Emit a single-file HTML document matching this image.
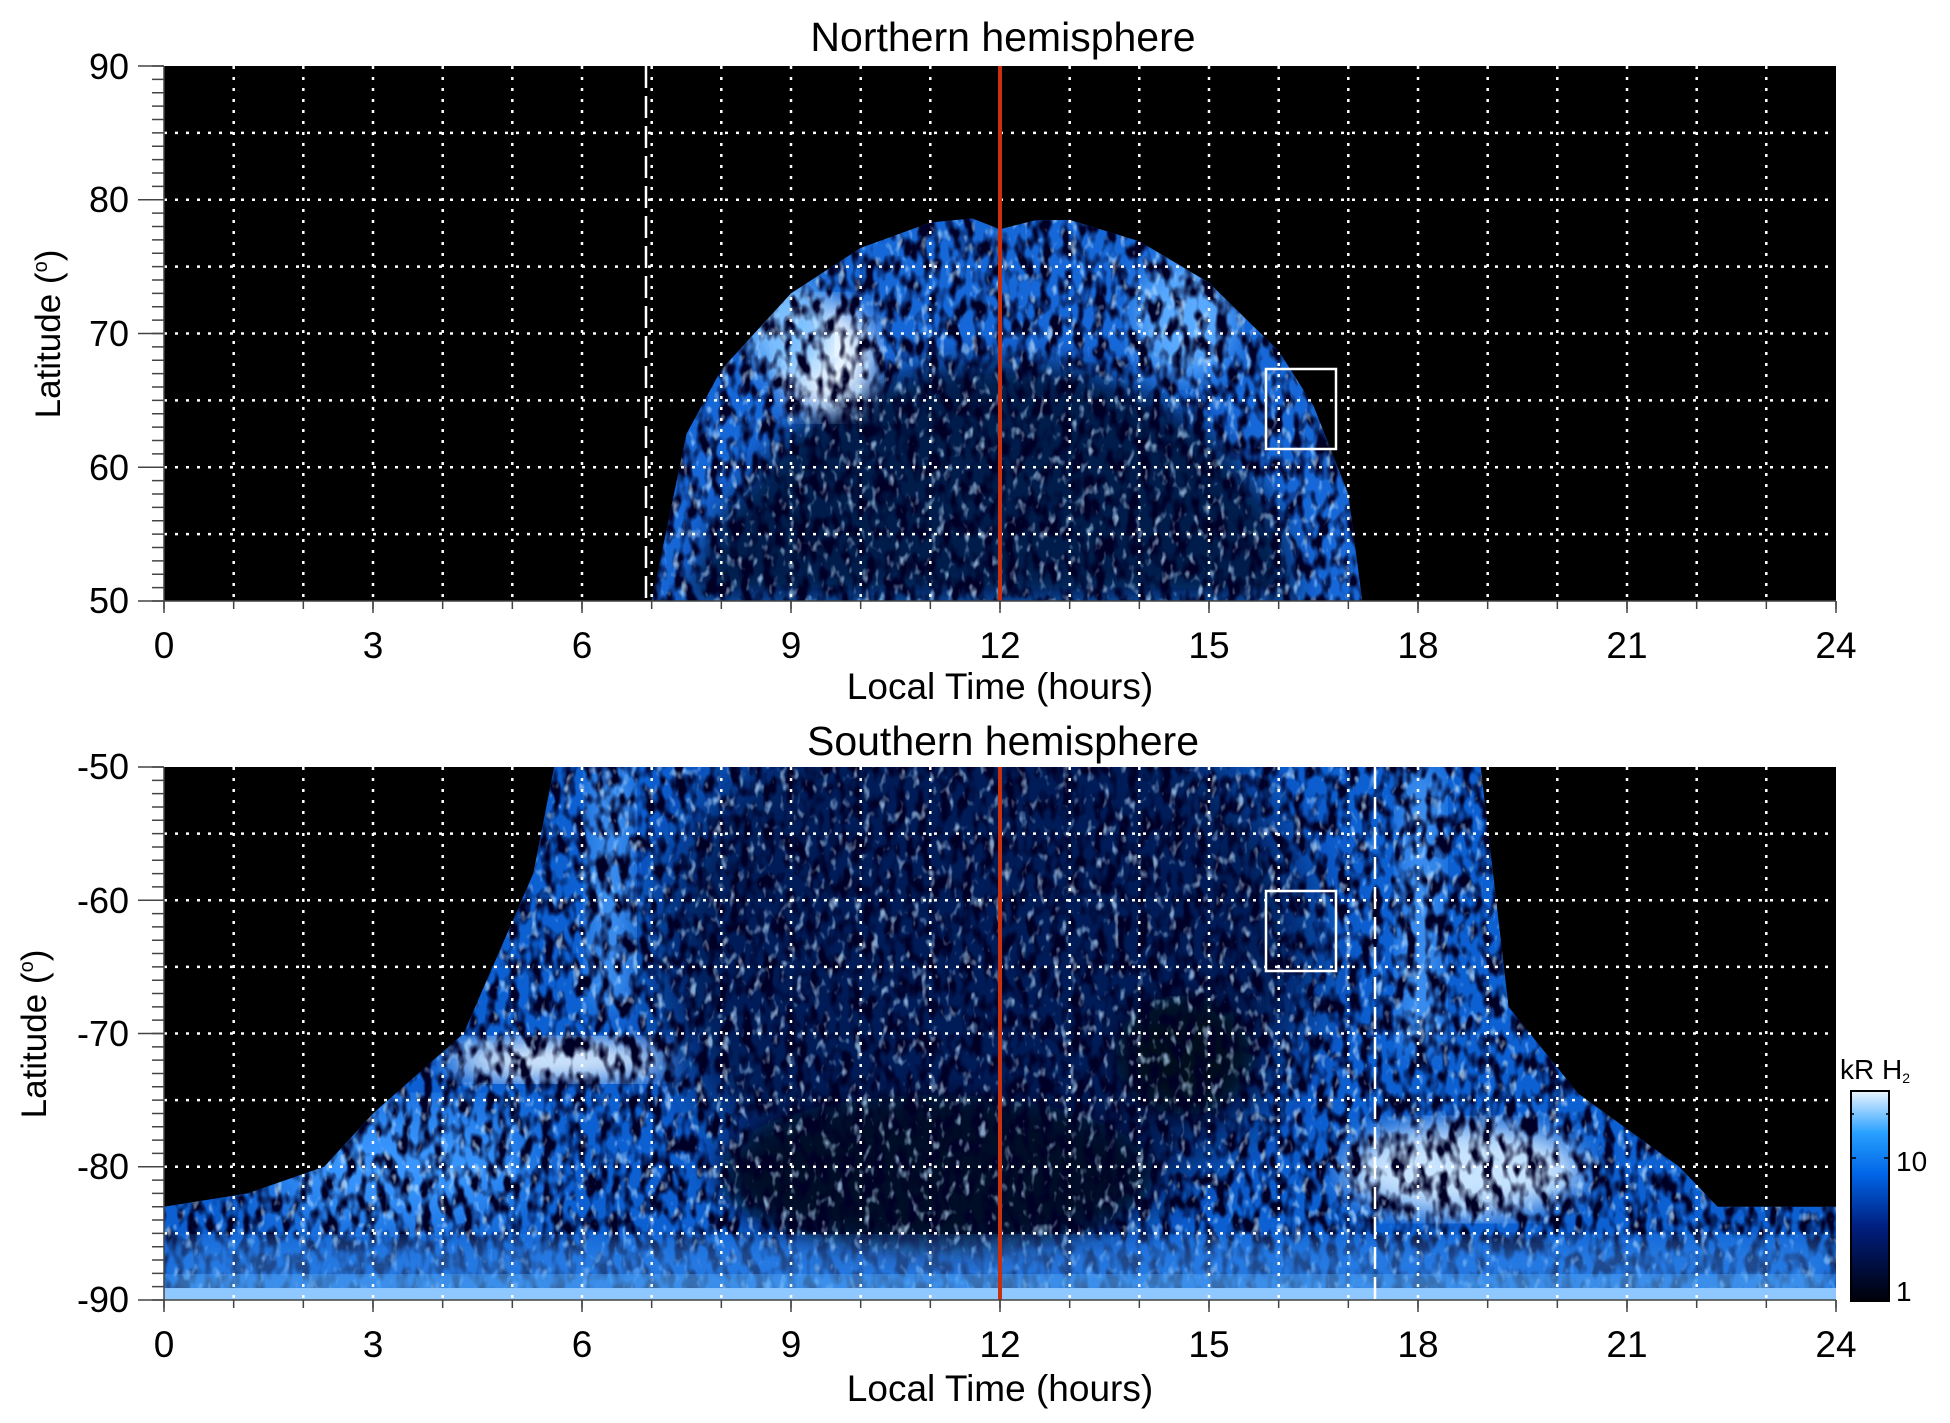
<!DOCTYPE html>
<html><head><meta charset="utf-8"><style>
html,body{margin:0;padding:0;background:#fff;}
body{width:1950px;height:1423px;position:relative;overflow:hidden;}
svg{position:absolute;left:0;top:0;font-family:"Liberation Sans",sans-serif;}
</style></head><body>
<svg width="1950" height="1423" xmlns="http://www.w3.org/2000/svg">
<defs>
<filter id="dk" x="0" y="0" width="100%" height="100%">
<feTurbulence type="fractalNoise" baseFrequency="0.09 0.05" numOctaves="2" seed="3"/>
<feColorMatrix values="0 0 0 0 0  0 0 0 0 0  0 0 0 0 0.02  -4 0 0 0 2.3"/>
</filter>
<filter id="lt" x="0" y="0" width="100%" height="100%">
<feTurbulence type="fractalNoise" baseFrequency="0.12 0.07" numOctaves="2" seed="9"/>
<feColorMatrix values="0 0 0 0 0.5  0 0 0 0 0.75  0 0 0 0 1  4 0 0 0 -2.3"/>
</filter>
<filter id="bl"><feGaussianBlur stdDeviation="14"/></filter>
<filter id="bl2"><feGaussianBlur stdDeviation="30"/></filter>
<clipPath id="cn"><path d="M654.3 604 L689.3 436.2 L724.3 371.7 L794.4 295.2 L864.4 249.6 L934.4 224.1 L976.5 220 L1004.5 230.8 L1039.5 222 L1074.5 221.4 L1144.6 242.9 L1214.6 284.5 L1284.6 353 L1319.7 408 L1354.7 496.6 L1368.7 604 Z"/></clipPath>
<clipPath id="cs"><path d="M164 1306 L164 1212.4 L248 1199 L325.1 1172.3 L374.1 1118.8 L465.2 1038.5 L535.2 878 L556.2 771 L1487.8 771 L1515.8 1011.8 L1585.8 1098.7 L1687.4 1172.3 L1725.9 1212.4 L1845 1212.4 L1845 1306 Z"/></clipPath>
<linearGradient id="cb" x1="0" y1="1" x2="0" y2="0"><stop offset="0" stop-color="#000008"/><stop offset="0.35" stop-color="#001e7d"/><stop offset="0.6" stop-color="#0064e6"/><stop offset="0.8" stop-color="#28a0ff"/><stop offset="1" stop-color="#ebf5ff"/></linearGradient>
</defs>

<!-- North panel -->
<g transform="translate(164,66) scale(0.99465,0.99628) translate(-164,-67)">
<rect x="164" y="67" width="1681" height="537" fill="#000"/>
<g clip-path="url(#cn)">
<rect x="600" y="200" width="800" height="410" fill="#1668d8"/>
<path d="M686 604 L724.3 516 L794.4 431 L864.4 390.5 L934.4 368 L1004.5 362.6 L1074.5 368 L1144.6 390.5 L1214.6 431 L1284.6 516 L1305 604 Z" fill="#031a4c" filter="url(#bl)"/>
<ellipse cx="830" cy="360" rx="48" ry="55" fill="#e8f4ff" filter="url(#bl)"/>
<ellipse cx="790" cy="330" rx="40" ry="50" fill="#7cc0ff" filter="url(#bl)"/>
<ellipse cx="1190" cy="320" rx="50" ry="60" fill="#5aaaff" filter="url(#bl)"/>
<rect x="600" y="200" width="800" height="410" filter="url(#dk)"/>
<rect x="600" y="200" width="800" height="410" filter="url(#lt)" opacity="0.7"/>
</g>
</g>

<!-- South panel -->
<g transform="translate(164,767) scale(0.99465,0.99626) translate(-164,-771)">
<rect x="164" y="771" width="1681" height="535" fill="#000"/>
<g clip-path="url(#cs)">
<rect x="164" y="771" width="1681" height="535" fill="#0c60d2"/>
<ellipse cx="990" cy="960" rx="330" ry="280" fill="#041c58" filter="url(#bl2)"/>
<ellipse cx="940" cy="1180" rx="220" ry="80" fill="#000a28" filter="url(#bl)"/>
<ellipse cx="1190" cy="1060" rx="70" ry="60" fill="#00081e" filter="url(#bl)"/>
<rect x="590" y="771" width="45" height="240" fill="#3d90f0" filter="url(#bl)"/>
<rect x="1405" y="771" width="45" height="280" fill="#3d90f0" filter="url(#bl)"/>
<ellipse cx="560" cy="1065" rx="110" ry="20" fill="#e8f4ff" filter="url(#bl)"/>
<ellipse cx="1470" cy="1175" rx="120" ry="45" fill="#c8e4ff" filter="url(#bl)"/>
<ellipse cx="400" cy="1170" rx="140" ry="60" fill="#3a98ff" filter="url(#bl2)"/>
<rect x="164" y="771" width="1681" height="535" filter="url(#dk)"/>
<rect x="164" y="771" width="1681" height="535" filter="url(#lt)" opacity="0.7"/>
<rect x="164" y="1245" width="1681" height="50" fill="#3c90f0" opacity="0.55" filter="url(#bl)"/>
<rect x="164" y="1282" width="1681" height="18" fill="#5aaef8" filter="url(#bl)"/>
<rect x="164" y="1294" width="1681" height="12" fill="#8ec8ff"/>
</g>
</g>

<!-- grids -->
<g stroke="#fff" stroke-width="2.5" stroke-dasharray="3,8" fill="none">
<path d="M233.7 66V601M303.3 66V601M373 66V601M442.7 66V601M512.3 66V601M582 66V601M651.7 66V601M721.3 66V601M791 66V601M860.7 66V601M930.3 66V601M1000 66V601M1069.7 66V601M1139.3 66V601M1209 66V601M1278.7 66V601M1348.3 66V601M1418 66V601M1487.7 66V601M1557.3 66V601M1627 66V601M1696.7 66V601M1766.3 66V601"/>
<path d="M164 132.9H1836M164 199.75H1836M164 266.6H1836M164 333.5H1836M164 400.4H1836M164 467.25H1836M164 534.1H1836"/>
<path d="M233.7 767V1300M303.3 767V1300M373 767V1300M442.7 767V1300M512.3 767V1300M582 767V1300M651.7 767V1300M721.3 767V1300M791 767V1300M860.7 767V1300M930.3 767V1300M1000 767V1300M1069.7 767V1300M1139.3 767V1300M1209 767V1300M1278.7 767V1300M1348.3 767V1300M1418 767V1300M1487.7 767V1300M1557.3 767V1300M1627 767V1300M1696.7 767V1300M1766.3 767V1300"/>
<path d="M164 833.6H1836M164 900.25H1836M164 966.9H1836M164 1033.5H1836M164 1100.1H1836M164 1166.75H1836M164 1233.4H1836"/>
</g>
<g stroke="#fff" stroke-width="2.5" stroke-dasharray="22,8">
<line x1="646" y1="66" x2="646" y2="601"/>
<line x1="1375" y1="767" x2="1375" y2="1300"/>
</g>
<line x1="1000" y1="66" x2="1000" y2="601" stroke="#c8300e" stroke-width="4"/>
<line x1="1000" y1="767" x2="1000" y2="1300" stroke="#c8300e" stroke-width="4"/>
<rect x="1266" y="369" width="70" height="80" fill="none" stroke="#fff" stroke-width="2.5"/>
<rect x="1266" y="891" width="70" height="80" fill="none" stroke="#fff" stroke-width="2.5"/>

<!-- axes & ticks -->
<g stroke="#444" stroke-width="1.5" fill="none">
<path d="M164 66V601H1836M164 767V1300H1836"/>
<line x1="158" y1="65.25" x2="158" y2="602" stroke-width="12" stroke-dasharray="1.5 11.875"/>
<line x1="158" y1="766.25" x2="158" y2="1301" stroke-width="12" stroke-dasharray="1.5 11.825"/>
<path d="M138 66H164M138 199.75H164M138 333.5H164M138 467.25H164M138 601H164M138 767H164M138 900.25H164M138 1033.5H164M138 1166.75H164M138 1300H164"/>
<line x1="163.25" y1="605" x2="1837" y2="605" stroke-width="8" stroke-dasharray="1.5 68.167"/>
<line x1="163.25" y1="1304" x2="1837" y2="1304" stroke-width="8" stroke-dasharray="1.5 68.167"/>
<path d="M164 601v12M373 601v12M582 601v12M791 601v12M1000 601v12M1209 601v12M1418 601v12M1627 601v12M1836 601v12M164 1300v12M373 1300v12M582 1300v12M791 1300v12M1000 1300v12M1209 1300v12M1418 1300v12M1627 1300v12M1836 1300v12"/>
</g>

<g font-size="36" fill="#000" text-anchor="end">
<text x="129" y="79">90</text><text x="129" y="212">80</text><text x="129" y="346">70</text><text x="129" y="480">60</text><text x="129" y="613">50</text>
<text x="129" y="779">-50</text><text x="129" y="913">-60</text><text x="129" y="1046">-70</text><text x="129" y="1179">-80</text><text x="129" y="1312">-90</text>
</g>
<g font-size="37" fill="#000" text-anchor="middle">
<text x="164" y="658">0</text><text x="373" y="658">3</text><text x="582" y="658">6</text><text x="791" y="658">9</text><text x="1000" y="658">12</text><text x="1209" y="658">15</text><text x="1418" y="658">18</text><text x="1627" y="658">21</text><text x="1836" y="658">24</text>
<text x="164" y="1357">0</text><text x="373" y="1357">3</text><text x="582" y="1357">6</text><text x="791" y="1357">9</text><text x="1000" y="1357">12</text><text x="1209" y="1357">15</text><text x="1418" y="1357">18</text><text x="1627" y="1357">21</text><text x="1836" y="1357">24</text>
<text x="1000" y="699">Local Time (hours)</text>
<text x="1000" y="1401">Local Time (hours)</text>
<text x="1003" y="51" font-size="41">Northern hemisphere</text>
<text x="1003" y="755" font-size="41">Southern hemisphere</text>
<text font-size="35" transform="translate(60,334) rotate(-90)">Latitude (<tspan font-size="20" dy="-13">o</tspan><tspan dy="13">)</tspan></text>
<text font-size="35" transform="translate(46,1034) rotate(-90)">Latitude (<tspan font-size="20" dy="-13">o</tspan><tspan dy="13">)</tspan></text>
</g>

<!-- colorbar -->
<rect x="1851" y="1091" width="38" height="210" fill="url(#cb)" stroke="#000" stroke-width="2"/>
<path d="M1851 1158h5M1884 1158h5M1851 1114h3M1886 1114h3" stroke="#000" stroke-width="1.5"/>
<text x="1896" y="1171" font-size="28">10</text>
<text x="1896" y="1301" font-size="28">1</text>
<text x="1840" y="1079" font-size="28">kR H<tspan font-size="14" dy="4">2</tspan></text>
</svg>
</body></html>
